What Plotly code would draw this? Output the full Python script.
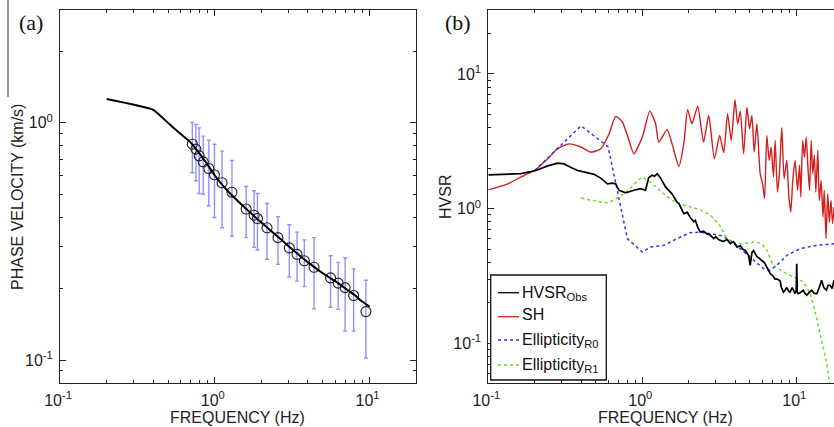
import plotly.graph_objects as go

# ---------------- Panel (a) data ----------------
model_freq = [0.2, 0.4, 0.5, 0.6, 0.7, 0.8, 0.9, 1.0, 1.2, 1.5, 2.0, 2.5, 3.0, 4.0, 5.0, 6.0, 7.0, 8.0, 9.0, 10.0]
model_vel = [1.26, 1.135, 0.999, 0.899, 0.825, 0.74, 0.665, 0.60, 0.52, 0.45, 0.38, 0.335, 0.302, 0.258, 0.232, 0.215, 0.20, 0.188, 0.176, 0.168]

obs_freq = [0.716, 0.755, 0.793, 0.842, 0.915, 0.995, 1.114, 1.291, 1.595, 1.795, 1.887, 2.176, 2.56, 3.03, 3.40, 3.79, 4.38, 5.60, 6.27, 6.95, 7.89, 9.47]
obs_vel = [0.813, 0.775, 0.726, 0.685, 0.642, 0.604, 0.559, 0.510, 0.433, 0.408, 0.395, 0.361, 0.328, 0.297, 0.279, 0.262, 0.246, 0.222, 0.211, 0.202, 0.187, 0.160]
obs_upper = [1.003, 0.984, 0.953, 0.879, 0.845, 0.813, 0.760, 0.694, 0.539, 0.517, 0.504, 0.457, 0.402, 0.372, 0.346, 0.321, 0.328, 0.275, 0.258, 0.270, 0.242, 0.217]
obs_lower = [0.616, 0.570, 0.504, 0.500, 0.447, 0.399, 0.361, 0.332, 0.328, 0.299, 0.291, 0.266, 0.253, 0.224, 0.215, 0.204, 0.1645, 0.167, 0.1635, 0.1324, 0.1324, 0.102]

# ---------------- Panel (b) data ----------------
hv_freq = [0.1, 0.13, 0.163, 0.204, 0.243, 0.282, 0.31, 0.345, 0.38, 0.43, 0.486, 0.54, 0.594, 0.64, 0.672, 0.706, 0.78, 0.882, 0.975, 1.05,
           1.1, 1.16, 1.2, 1.25, 1.31, 1.415, 1.56, 1.68, 1.73, 1.86, 1.96, 2.05, 2.16, 2.21, 2.3, 2.38, 2.5, 2.63, 2.75, 2.91,
           3.0, 3.13, 3.21, 3.35, 3.55, 3.73, 3.92, 4.12, 4.33, 4.5, 4.66, 4.9, 5.02, 5.15, 5.28, 5.55, 5.75, 5.98, 6.2, 6.44,
           6.77, 7.0, 7.29, 7.55, 7.86, 8.0, 8.25, 8.5, 8.68, 8.9, 9.12, 9.4, 9.82, 10.0, 10.07, 10.15, 10.3, 10.7, 11.1, 11.4,
           11.7, 12.2, 12.6, 13.1, 13.6, 14.1, 14.6, 15.1, 15.7, 16.1, 16.6, 17.1, 17.6]
hv_obs = [1.78, 1.80, 1.82, 1.92, 2.08, 2.18, 2.15, 2.02, 1.92, 1.86, 1.80, 1.68, 1.53, 1.55, 1.53, 1.37, 1.31, 1.37, 1.41, 1.37,
          1.70, 1.77, 1.74, 1.82, 1.70, 1.45, 1.29, 1.12, 1.09, 0.92, 0.94, 0.86, 0.80, 0.82, 0.72, 0.67, 0.68, 0.65, 0.64, 0.60,
          0.62, 0.59, 0.58, 0.57, 0.59, 0.55, 0.57, 0.52, 0.53, 0.50, 0.49, 0.45, 0.38, 0.47, 0.49, 0.44, 0.43, 0.41, 0.40, 0.37,
          0.33, 0.32, 0.30, 0.30, 0.29, 0.26, 0.24, 0.25, 0.26, 0.245, 0.24, 0.26, 0.234, 0.25, 0.39, 0.24, 0.234, 0.24, 0.248, 0.235,
          0.228, 0.24, 0.248, 0.235, 0.234, 0.26, 0.294, 0.26, 0.248, 0.27, 0.27, 0.255, 0.294]

sh_freq = [0.1, 0.134, 0.171, 0.2, 0.243, 0.282, 0.335, 0.40, 0.463, 0.538, 0.609, 0.672, 0.742, 0.82, 0.882, 1.0, 1.12, 1.22, 1.28, 1.45,
           1.56, 1.73, 1.86, 1.97, 2.1, 2.29, 2.5, 2.7, 2.94, 3.18, 3.38, 3.58, 3.78, 4.0, 4.16, 4.33, 4.55, 4.78, 4.97, 5.15,
           5.33, 5.55, 5.83, 6.04, 6.22, 6.44, 6.67, 6.87, 7.11, 7.29, 7.55, 7.78, 8.05, 8.34, 8.68, 8.94, 9.21, 9.49, 9.82, 10.2,
           10.5, 10.7, 11.0, 11.3, 11.6, 11.9, 12.2, 12.5, 12.8, 13.1, 13.4, 13.8, 14.1, 14.5, 14.9, 15.2, 15.6, 16.0, 16.4, 16.8,
           17.2, 17.6]
sh_val = [1.38, 1.53, 1.77, 1.92, 2.35, 2.79, 3.03, 2.87, 2.63, 2.79, 3.6, 4.84, 4.4, 3.21, 2.56, 3.4, 5.3, 4.27, 3.12, 3.86,
          3.04, 2.06, 3.04, 5.43, 4.27, 5.74, 3.12, 4.92, 2.35, 3.5, 2.6, 5.07, 3.21, 6.44, 4.27, 5.3, 2.56, 5.67, 3.92, 4.92,
          2.63, 4.27, 1.82, 1.53, 1.19, 3.5, 2.28, 2.86, 1.72, 3.21, 1.33, 1.87, 3.99, 1.67, 2.28, 1.26, 0.944, 1.62, 2.28, 1.37,
          2.1, 1.22, 3.21, 2.41, 3.4, 2.04, 1.37, 3.21, 1.82, 2.49, 1.33, 2.71, 1.15, 1.62, 0.867, 1.37, 0.6, 1.29, 0.79, 1.15,
          0.774, 1.03]

r0_freq = [0.2, 0.4, 0.6, 0.8, 1.0, 1.13, 1.38, 1.68, 2.05, 2.38, 2.91, 3.21, 3.73, 4.33, 5.28, 6.13, 6.77, 7.47, 8.68, 10.6, 13.5, 17.6]
r0_val = [1.92, 4.12, 2.88, 0.60, 0.476, 0.519, 0.534, 0.60, 0.664, 0.67, 0.645, 0.634, 0.582, 0.505, 0.414, 0.359, 0.349, 0.38, 0.45, 0.505, 0.534, 0.55]

r1_freq = [0.4, 0.6, 0.8, 1.0, 1.19, 1.415, 1.68, 2.05, 2.38, 2.77, 3.21, 3.55, 3.92, 4.55, 5.28, 5.83, 6.44, 7.11, 8.25, 9.6, 11.1, 12.3, 13.5, 14.6, 15.6, 16.4, 17.0]
r1_val = [1.2, 1.11, 1.35, 1.71, 1.49, 1.26, 1.10, 1.03, 0.98, 0.892, 0.74, 0.6, 0.556, 0.55, 0.565, 0.556, 0.49, 0.38, 0.339, 0.311, 0.286, 0.234, 0.157, 0.105, 0.075, 0.052, 0.04]

legend_labels = ["HVSR<sub>Obs</sub>", "SH", "Ellipticity<sub>R0</sub>", "Ellipticity<sub>R1</sub>"]

dec_a_y_major = [0.1, 1]
dec_x_major = [0.1, 1, 10]
dec_b_y_major = [0.1, 1, 10]
tick_text = {0.1: "10<sup>-1</sup>", 1: "10<sup>0</sup>", 10: "10<sup>1</sup>"}

err_plus = [u - v for u, v in zip(obs_upper, obs_vel)]
err_minus = [v - l for v, l in zip(obs_vel, obs_lower)]

W, H = 834, 427
FONT = "Liberation Sans, Arial, sans-serif"
AX = "#222222"

COL_HV = "black"
COL_SH = "#d21f1f"
COL_R0 = "#3030ff"
COL_R1 = "#66dd22"

fig = go.Figure()

# Panel (a)
fig.add_trace(go.Scatter(
    x=obs_freq, y=obs_vel, mode="markers", xaxis="x", yaxis="y", showlegend=False,
    marker=dict(symbol="circle-open", size=10, color="#222222", line=dict(width=1.1)),
    error_y=dict(type="data", symmetric=False, array=err_plus, arrayminus=err_minus,
                 color="rgba(110,110,255,0.75)", thickness=1.4, width=2)))
fig.add_trace(go.Scatter(
    x=model_freq, y=model_vel, mode="lines", xaxis="x", yaxis="y", showlegend=False,
    line=dict(color="black", width=2, shape="spline", smoothing=0.4)))

# Panel (b)
fig.add_trace(go.Scatter(x=sh_freq, y=sh_val, mode="lines", xaxis="x2", yaxis="y2",
                         name="SH", showlegend=False,
                         line=dict(color=COL_SH, width=1.4, shape="spline", smoothing=0.6)))
fig.add_trace(go.Scatter(x=r0_freq, y=r0_val, mode="lines", xaxis="x2", yaxis="y2",
                         name="Ellipticity R0", showlegend=False,
                         line=dict(color=COL_R0, width=1.5, dash="dot")))
fig.add_trace(go.Scatter(x=r1_freq, y=r1_val, mode="lines", xaxis="x2", yaxis="y2",
                         name="Ellipticity R1", showlegend=False,
                         line=dict(color=COL_R1, width=1.5, dash="dot", shape="spline", smoothing=0.5)))
fig.add_trace(go.Scatter(x=hv_freq, y=hv_obs, mode="lines", xaxis="x2", yaxis="y2",
                         name="HVSR Obs", showlegend=False,
                         line=dict(color=COL_HV, width=1.7)))

def minor_vals(lo, hi):
    vals = []
    d = 0.01
    while d < 1000:
        for k in range(2, 10):
            v = k * d
            if lo <= v <= hi:
                vals.append(round(v, 6))
        d *= 10
    return vals

def axis(domain, rng, major, minor, mirror, anchor, is_x):
    d = dict(type="log", domain=domain, range=rng, anchor=anchor, automargin=False,
             showline=True, linecolor=AX, linewidth=1, mirror=mirror,
             showgrid=False, zeroline=False,
             ticks="inside", ticklen=6, tickcolor=AX,
             tickmode="array", tickvals=major, ticktext=[tick_text[m] for m in major],
             tickfont=dict(family=FONT, size=16, color=AX),
             minor=dict(ticks="inside", ticklen=3, tickcolor=AX, tickmode="array",
                        tickvals=minor, showgrid=False))
    if is_x:
        d.update(ticklabelstandoff=3, ticklabelshift=-2)
    else:
        d.update(ticklabelstandoff=3)
    return d

ya_dom = [1 - 383 / H, 1 - 10 / H]
fig.update_layout(
    width=W, height=H, margin=dict(l=0, r=0, t=0, b=0, autoexpand=False),
    paper_bgcolor="white", plot_bgcolor="white", showlegend=False,
    xaxis=axis([60 / W, 416 / W], [-1, 1.3], dec_x_major, minor_vals(0.1, 20), "ticks", "y", True),
    yaxis=axis(ya_dom, [-1.097, 0.476], dec_a_y_major, minor_vals(0.08, 3), "ticks", "x", False),
    xaxis2=axis([488.3 / W, 1.0], [-1, 1.245], dec_x_major, minor_vals(0.1, 17.6), "ticks", "y2", True),
    yaxis2=axis(ya_dom, [-1.294, 1.475], dec_b_y_major, minor_vals(0.05, 30), False, "x2", False),
)

ann = [
    dict(text="(a)", x=31 / W, y=1 - 23 / H, font=dict(family="Liberation Serif, Times New Roman, serif", size=22, color="#111")),
    dict(text="(b)", x=458 / W, y=1 - 23 / H, font=dict(family="Liberation Serif, Times New Roman, serif", size=22, color="#111")),
    dict(text="FREQUENCY (Hz)", x=237 / W, y=1 - 417 / H, font=dict(family=FONT, size=16, color=AX)),
    dict(text="FREQUENCY (Hz)", x=665 / W, y=1 - 417 / H, font=dict(family=FONT, size=16, color=AX)),
    dict(text="PHASE VELOCITY (km/s)", x=17 / W, y=1 - 197 / H, textangle=-90, font=dict(family=FONT, size=16, color=AX)),
    dict(text="HVSR", x=445 / W, y=1 - 197 / H, textangle=-90, font=dict(family=FONT, size=16, color=AX)),
]
for a in ann:
    a.update(xanchor="center", yanchor="middle")

# Manual legend (box, line samples, labels)
leg_box = (490.7, 275, 606.3, 380)
leg_line_y = [292.7, 316.7, 340, 365]
leg_text_y = [289, 314, 336, 361]
leg_cols = [COL_HV, COL_SH, COL_R0, COL_R1]
leg_dash = ["solid", "solid", "dot", "dot"]

fig.add_shape(type="rect", xref="paper", yref="paper",
              x0=leg_box[0] / W, x1=leg_box[2] / W, y0=1 - leg_box[1] / H, y1=1 - leg_box[3] / H,
              line=dict(color="#111111", width=1.3), fillcolor="white", layer="above")
for lbl, ly, ty, c, ds in zip(legend_labels, leg_line_y, leg_text_y, leg_cols, leg_dash):
    fig.add_shape(type="line", xref="paper", yref="paper", x0=498 / W, x1=519 / W,
                  y0=1 - ly / H, y1=1 - ly / H, line=dict(color=c, width=1.3, dash=ds), layer="above")
    has_sub = "<sub>" in lbl
    ann.append(dict(text=lbl, x=520 / W, y=1 - (ty + (4 if has_sub else 0)) / H, xanchor="left", yanchor="middle",
                    font=dict(family=FONT, size=16, color="#111111")))

for a in ann:
    a.update(xref="paper", yref="paper", showarrow=False)
fig.update_layout(annotations=ann)

fig.add_shape(type="line", xref="paper", yref="paper", x0=8 / W, x1=8 / W, y0=1, y1=1 - 97 / H,
              line=dict(color="#777777", width=1.5))

fig.write_html("out.html")
